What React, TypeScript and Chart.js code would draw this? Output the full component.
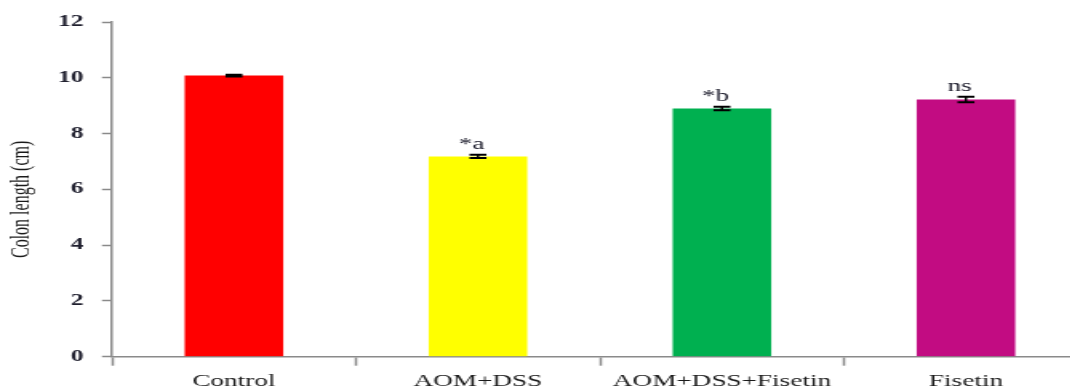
import React, { useEffect, useRef } from "react";
import { Chart, registerables } from "chart.js";

Chart.register(...registerables);

// Colon length per treatment group (cm), mean ± SEM
const groups = ["Control", "AOM+DSS", "AOM+DSS+Fisetin", "Fisetin"];
const lengths = [10.08, 7.18, 8.9, 9.22];
const sems = [0.03, 0.06, 0.06, 0.1];
const markers = ["", "*a", "*b", "ns"];
const barColors = ["#FF0000", "#FFFF00", "#00B050", "#C20C82"];
const yTicks = [0, 2, 4, 6, 8, 10, 12];
const yTitle = "Colon length (cm)";

const SERIF = "'Liberation Serif', 'Times New Roman', serif";
const STRETCH = 1.6; // horizontal stretch of the whole figure
const AXIS_GREY = "#8a8a8a";

const errorBarPlugin = {
  id: "errorBars",
  afterDatasetsDraw(chart: any) {
    const { ctx, scales } = chart;
    const y = scales.y;
    const meta = chart.getDatasetMeta(0);
    ctx.save();
    ctx.strokeStyle = "#000";
    meta.data.forEach((bar: any, i: number) => {
      const x = bar.x;
      const top = y.getPixelForValue(lengths[i] + sems[i]);
      const bottom = y.getPixelForValue(lengths[i] - sems[i]);
      const cap = 5.3;
      ctx.lineWidth = 1.5;
      ctx.beginPath();
      ctx.moveTo(x, top);
      ctx.lineTo(x, bottom);
      ctx.stroke();
      ctx.lineWidth = 2;
      ctx.beginPath();
      ctx.moveTo(x - cap, top);
      ctx.lineTo(x + cap, top);
      ctx.moveTo(x - cap, bottom);
      ctx.lineTo(x + cap, bottom);
      ctx.stroke();
      if (markers[i]) {
        ctx.fillStyle = "#1a1a2a";
        ctx.font = `17px ${SERIF}`;
        ctx.textAlign = "center";
        ctx.textBaseline = "alphabetic";
        ctx.fillText(markers[i], x - 4, top - 6);
      }
    });
    ctx.restore();
  },
};

const yTitlePlugin = {
  id: "yTitle",
  afterDraw(chart: any) {
    const { ctx, chartArea } = chart;
    ctx.save();
    ctx.translate(14, (chartArea.top + chartArea.bottom) / 2 + 10);
    ctx.rotate(-Math.PI / 2);
    ctx.fillStyle = "#1a1a1a";
    ctx.font = `16px ${SERIF}`;
    ctx.textAlign = "center";
    ctx.textBaseline = "middle";
    ctx.fillText(yTitle, 0, 0);
    ctx.restore();
  },
};

export default function App() {
  const canvasRef = useRef<HTMLCanvasElement | null>(null);

  useEffect(() => {
    if (!canvasRef.current) return;
    const chart = new Chart(canvasRef.current, {
      type: "bar",
      data: {
        labels: groups,
        datasets: [
          {
            data: lengths,
            backgroundColor: barColors,
            borderWidth: 0,
            categoryPercentage: 1,
            barPercentage: 0.404,
          },
        ],
      },
      options: {
        animation: false,
        responsive: true,
        maintainAspectRatio: false,
        devicePixelRatio: 1,
        layout: { padding: { top: 22, bottom: 0, left: 0, right: 10 } },
        plugins: {
          legend: { display: false },
          tooltip: { enabled: false },
        },
        scales: {
          x: {
            afterFit: (scale: any) => {
              scale.height = 33.3;
            },
            border: { color: AXIS_GREY, width: 1.5 },
            grid: {
              offset: true,
              drawOnChartArea: false,
              drawTicks: true,
              tickLength: 9,
              tickColor: AXIS_GREY,
              tickWidth: 1.5,
            },
            ticks: {
              color: "#1a1a1a",
              padding: 6,
              font: { family: SERIF, size: 17 },
              maxRotation: 0,
              autoSkip: false,
            },
          },
          y: {
            min: 0,
            max: 12,
            afterFit: (scale: any) => {
              scale.width = 70;
            },
            afterBuildTicks: (scale: any) => {
              scale.ticks = yTicks.map((v) => ({ value: v }));
            },
            border: { color: AXIS_GREY, width: 1.5 },
            grid: {
              drawOnChartArea: false,
              drawTicks: true,
              tickLength: 6.25,
              tickColor: AXIS_GREY,
              tickWidth: 1.5,
            },
            ticks: {
              color: "#1f1f2e",
              padding: 11.5,
              font: { family: SERIF, size: 16, weight: "bold" },
            },
          },
        },
      },
      plugins: [errorBarPlugin, yTitlePlugin],
    });
    return () => chart.destroy();
  }, []);

  return (
    <div
      style={{
        position: "fixed",
        left: 0,
        top: 0,
        width: 1070,
        height: 390,
        overflow: "hidden",
        background: "#fff",
      }}
    >
      <div
        style={{
          width: 690,
          height: 390,
          transform: `scaleX(${STRETCH})`,
          transformOrigin: "left top",
        }}
      >
        <canvas ref={canvasRef} />
      </div>
    </div>
  );
}
